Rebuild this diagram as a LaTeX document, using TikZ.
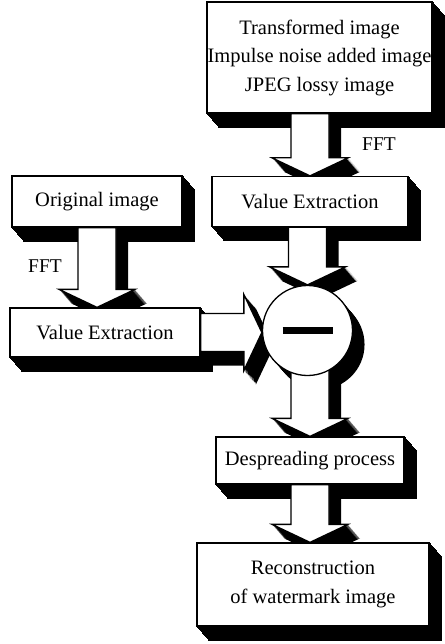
\documentclass[tikz,border=0pt]{standalone}
\usepackage{fontspec}
\setmainfont{Liberation Serif}
\usetikzlibrary{calc,backgrounds}

% Styles for the blocks and the FFT marks
\tikzset{
  block/.style={draw, line width=1.3pt, fill=white, inner sep=0pt, align=center,
    font=\fontsize{20.5}{28.5}\selectfont},
  fftmark/.style={font=\fontsize{19.5}{22}\selectfont}
}

% Solid look: fill the path again and again, pushed down to the right
\newcommand{\extrude}[1]{%
  \foreach \k in {1,...,14}
    {\fill[black, transform canvas={shift={(0.86*\k,\k)}}] #1;}}

% Fat arrow from #1 to the tip #2
\newcommand{\fatarrow}[2]{%
  ($(#1)!19pt!90:(#2)$)
  -- ($($(#2)!18pt!(#1)$)!19pt!-90:(#1)$)
  -- ($($(#2)!18pt!(#1)$)!38pt!-90:(#1)$)
  -- (#2)
  -- ($($(#2)!18pt!(#1)$)!38pt!90:(#1)$)
  -- ($($(#2)!18pt!(#1)$)!19pt!90:(#1)$)
  -- ($(#1)!19pt!-90:(#2)$) -- cycle}

\begin{document}
\begin{tikzpicture}[x=1pt, y=-1pt]

    \useasboundingbox (0,0) rectangle (444,644);

    % The blocks
    \node[block, minimum width=225, minimum height=111] (trans) at (319.5,57.5)
        {Transformed image\\Impulse noise added image\\JPEG lossy image};
    \node[block, minimum width=196, minimum height=50] (veR) at (310,201.5) {Value Extraction};
    \node[block, minimum width=170, minimum height=51] (orig) at (97,201.5) {Original image};
    \node[block, minimum width=190, minimum height=49] (veL) at (105,332.5) {Value Extraction};
    \node[block, circle, minimum size=90] (sum) at (307.5,330.5) {};
    \node[block, minimum width=188, minimum height=47] (desp) at (310,460.5) {Despreading process};
    \node[block, minimum width=232, minimum height=83] (recon) at (313,584.5)
        {Reconstruction\\of watermark image};

    % The minus sign
    \draw[line width=6.5pt] ([xshift=-25pt]sum.center) -- ([xshift=25pt]sum.center);

    % FFT marks
    \node[fftmark] (fftR) at (379,144) {FFT};
    \node[fftmark] (fftL) at (45,266) {FFT};

    \begin{scope}[on background layer]
        % Shadows of the blocks
        \foreach \n in {trans, veR, orig, veL, desp, recon}
            {\extrude{(\n.north west) rectangle (\n.south east)}}
        \extrude{(sum.center) circle (45pt)}

        % Arrow start points
        \coordinate (s1) at (trans.south -| veR.north);
        \coordinate (s2) at (veR.south -| sum.north);
        \coordinate (s3) at (orig.south);
        \coordinate (s4) at (desp.north |- sum.center);
        \coordinate (s5) at (desp.south);
        \coordinate (s6) at (veL.east);

        % Arrow tips
        \coordinate (t1) at (veR.north);
        \coordinate (t2) at (sum.north);
        \coordinate (t3) at (orig.south |- veL.north);
        \coordinate (t4) at (desp.north);
        \coordinate (t5) at (desp.south |- recon.north);
        \coordinate (t6) at (veL.east -| sum.west);

        % Shadows of the arrows
        \foreach \a in {1,...,6}
            {\extrude{\fatarrow{s\a}{t\a}}}

        % The arrows
        \foreach \a in {1,...,6}
            {\draw[line width=1.3pt, fill=white] \fatarrow{s\a}{t\a};}
    \end{scope}

\end{tikzpicture}
\end{document}
